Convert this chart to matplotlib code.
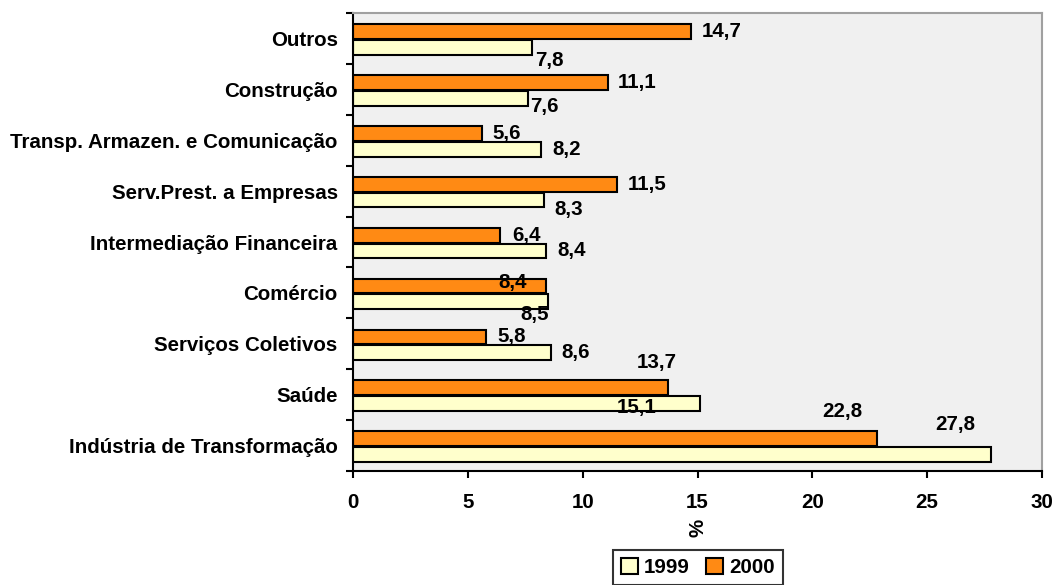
import numpy as np
import matplotlib.pyplot as plt

plt.rcParams['font.family'] = ['Liberation Sans', 'DejaVu Sans']
plt.rcParams['font.weight'] = 'bold'

sectors = ['Outros', 'Construção', 'Transp. Armazen. e Comunicação',
           'Serv.Prest. a Empresas', 'Intermediação Financeira', 'Comércio',
           'Serviços Coletivos', 'Saúde', 'Indústria de Transformação']
vals_1999 = [7.8, 7.6, 8.2, 8.3, 8.4, 8.5, 8.6, 15.1, 27.8]
vals_2000 = [14.7, 11.1, 5.6, 11.5, 6.4, 8.4, 5.8, 13.7, 22.8]
xticks = [0, 5, 10, 15, 20, 25, 30]

# label nudges in pixels (dx from bar end, dy downward from bar centre)
shift_1999 = [(3, 13), (3, 8), (11, 0), (11, 9), (11, 0), (-28, 13), (11, 0), (-83, 4), (-56, -30)]
shift_2000 = [(11, 0), (10, 0), (11, 0), (11, 0), (12, 0), (-48, -4), (11, 0), (-31, -25), (-54, -27)]

c1999 = '#ffffcc'
c2000 = '#ff8a14'
fs = 14.8

fig = plt.figure(figsize=(10.55, 5.85), dpi=100)
ax = fig.add_axes([353 / 1055, 1 - 471 / 585, 689 / 1055, 458 / 585])
ax.set_facecolor('#f0f0f0')

y = np.arange(len(sectors))
h = 0.29
b00 = ax.barh(y - h / 2 + 0.01, vals_2000, height=h, color=c2000, edgecolor='black', linewidth=1.5, label='2000')
b99 = ax.barh(y + h / 2 + 0.03, vals_1999, height=h, color=c1999, edgecolor='black', linewidth=1.5, label='1999')

for bars, vals, shifts in [(b00, vals_2000, shift_2000), (b99, vals_1999, shift_1999)]:
    for bar, v, (dx, dy) in zip(bars, vals, shifts):
        yc = bar.get_y() + bar.get_height() / 2
        ax.annotate(f'{v:.1f}'.replace('.', ','), (v, yc), xytext=(dx, -dy),
                    textcoords='offset pixels', ha='left', va='center',
                    fontsize=fs, fontweight='bold')

ax.set_xlim(0, 30)
ax.set_ylim(len(sectors) - 0.5, -0.5)
ax.set_xticks(xticks)
ax.set_yticks(np.arange(len(sectors) + 1) - 0.5, minor=True)
ax.set_yticks(y)
ax.set_yticklabels(sectors, fontsize=fs, fontweight='bold')
ax.tick_params(axis='y', which='major', length=0, pad=11)
ax.tick_params(axis='y', which='minor', length=5, width=1.5, direction='out')
ax.tick_params(axis='x', length=5, width=1.5, direction='out', labelsize=fs, pad=11)
for lab in ax.get_xticklabels():
    lab.set_fontweight('bold')

ax.spines['left'].set_linewidth(1.5)
ax.spines['bottom'].set_linewidth(1.5)
ax.spines['top'].set_color('#a0a0a0')
ax.spines['right'].set_color('#a0a0a0')
ax.spines['top'].set_linewidth(1.5)
ax.spines['right'].set_linewidth(1.5)

ax.set_xlabel('%', fontsize=fs, fontweight='bold', rotation=90, labelpad=5)

leg = fig.legend([b99, b00], ['1999', '2000'], loc='upper center',
                 bbox_to_anchor=(698 / 1055, 1 - 550 / 585), ncol=2,
                 frameon=True, fancybox=False, edgecolor='black',
                 handlelength=0.8, handleheight=0.8, handletextpad=0.3,
                 columnspacing=0.8, borderpad=0.4, borderaxespad=0,
                 prop={'size': fs, 'weight': 'bold'})
leg.get_frame().set_linewidth(1.5)

fig.savefig('out.png', dpi=100)
